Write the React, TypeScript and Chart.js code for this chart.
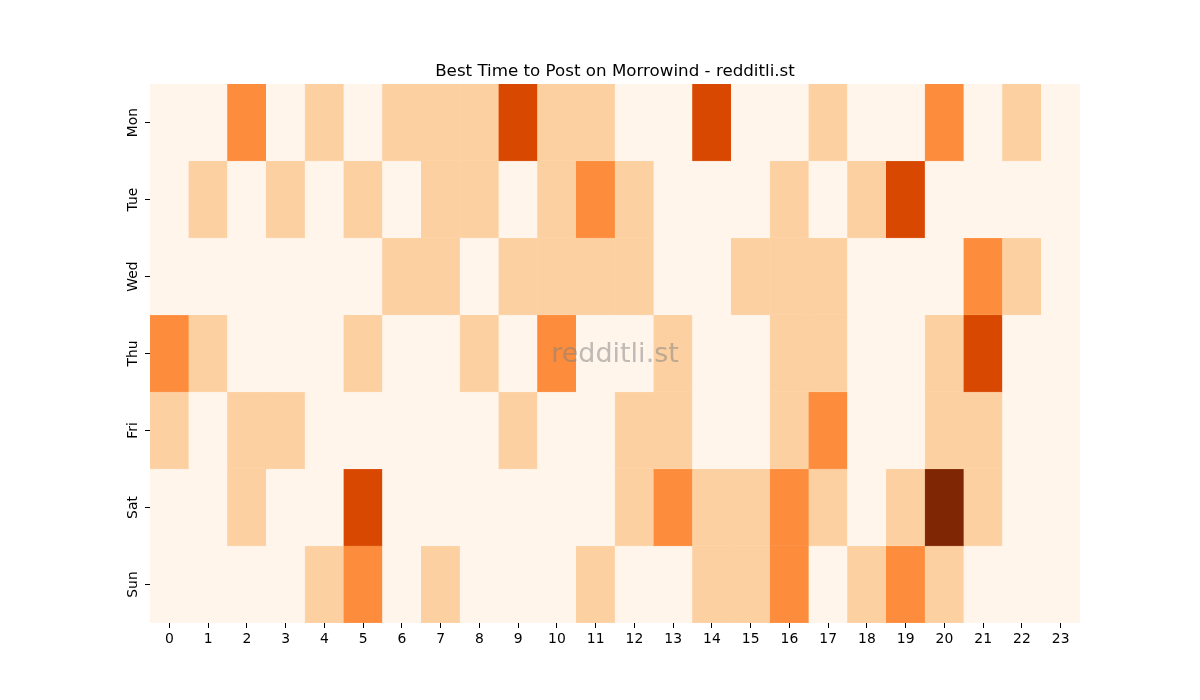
import { useEffect, useRef } from 'react';
import { Chart, registerables } from 'chart.js';

Chart.register(...registerables);

const days = ['Mon', 'Tue', 'Wed', 'Thu', 'Fri', 'Sat', 'Sun'];
const hours = Array.from({ length: 24 }, (_, i) => String(i));

// post counts per hour, one array per day
const mon = [0, 0, 2, 0, 1, 0, 1, 1, 1, 3, 1, 1, 0, 0, 3, 0, 0, 1, 0, 0, 2, 0, 1, 0];
const tue = [0, 1, 0, 1, 0, 1, 0, 1, 1, 0, 1, 2, 1, 0, 0, 0, 1, 0, 1, 3, 0, 0, 0, 0];
const wed = [0, 0, 0, 0, 0, 0, 1, 1, 0, 1, 1, 1, 1, 0, 0, 1, 1, 1, 0, 0, 0, 2, 1, 0];
const thu = [2, 1, 0, 0, 0, 1, 0, 0, 1, 0, 2, 0, 0, 1, 0, 0, 1, 1, 0, 0, 1, 3, 0, 0];
const fri = [1, 0, 1, 1, 0, 0, 0, 0, 0, 1, 0, 0, 1, 1, 0, 0, 1, 2, 0, 0, 1, 1, 0, 0];
const sat = [0, 0, 1, 0, 0, 3, 0, 0, 0, 0, 0, 0, 1, 2, 1, 1, 2, 1, 0, 1, 4, 1, 0, 0];
const sun = [0, 0, 0, 0, 1, 2, 0, 1, 0, 0, 0, 1, 0, 0, 1, 1, 2, 0, 1, 2, 1, 0, 0, 0];
const counts = [mon, tue, wed, thu, fri, sat, sun];

// Oranges colormap steps for 0..4
const oranges = ['#fff5eb', '#fdd0a2', '#fd8d3c', '#d94801', '#7f2704'];

const FONT = '"DejaVu Sans", sans-serif';

const HeatmapChart = () => {
  const canvasRef = useRef<HTMLCanvasElement>(null);
  const chartRef = useRef<Chart | null>(null);

  useEffect(() => {
    if (!canvasRef.current) return;
    if (chartRef.current) chartRef.current.destroy();

    // rotated day labels + watermark
    const extras = {
      id: 'extras',
      afterDraw(chart: any) {
        const ctx = chart.ctx;
        const y = chart.scales.y;
        ctx.save();
        ctx.fillStyle = '#000';
        ctx.font = `13.9px ${FONT}`;
        ctx.textAlign = 'center';
        ctx.textBaseline = 'middle';
        days.forEach((d, i) => {
          ctx.save();
          ctx.translate(133, y.getPixelForValue(i + 0.5));
          ctx.rotate(-Math.PI / 2);
          ctx.fillText(d, 0, 0);
          ctx.restore();
        });
        const area = chart.chartArea;
        ctx.font = `27px ${FONT}`;
        ctx.fillStyle = 'rgba(128, 128, 128, 0.5)';
        ctx.fillText('redditli.st', (area.left + area.right) / 2, (area.top + area.bottom) / 2 + 1);
        ctx.restore();
      },
    };

    chartRef.current = new Chart(canvasRef.current, {
      type: 'bar',
      data: {
        labels: hours,
        datasets: counts.map((row, i) => ({
          label: days[i],
          data: row.map(() => 1),
          backgroundColor: row.map((c) => oranges[c]),
          borderColor: row.map((c) => oranges[c]),
          borderWidth: 0.5,
          barPercentage: 1,
          categoryPercentage: 1,
        })),
      },
      options: {
        responsive: true,
        maintainAspectRatio: false,
        animation: false,
        layout: { padding: { left: 150, right: 120, top: 0, bottom: 0 } },
        plugins: {
          legend: { display: false },
          tooltip: { enabled: false },
          title: {
            display: true,
            text: 'Best Time to Post on Morrowind - redditli.st',
            color: '#000',
            font: { family: FONT, size: 16.7, weight: 'normal', lineHeight: 1.2 },
            padding: { top: 62, bottom: 2 },
          },
        },
        scales: {
          x: {
            stacked: true,
            border: { display: false },
            grid: {
              offset: false,
              drawOnChartArea: false,
              drawTicks: true,
              tickLength: 5,
              tickWidth: 1,
              tickColor: '#000',
            },
            ticks: {
              color: '#000',
              font: { family: FONT, size: 13.9 },
              padding: 3,
              maxRotation: 0,
              minRotation: 0,
              autoSkip: false,
            },
            afterFit: (scale: any) => {
              scale.height = 77;
            },
          },
          y: {
            stacked: true,
            reverse: true,
            min: 0,
            max: 7,
            border: { display: false },
            afterBuildTicks: (scale: any) => {
              scale.ticks = days.map((_, i) => ({ value: i + 0.5 }));
            },
            grid: {
              drawOnChartArea: false,
              drawTicks: true,
              tickLength: 5,
              tickWidth: 1,
              tickColor: '#000',
            },
            ticks: { display: false },
            afterFit: (scale: any) => {
              scale.width = 0;
            },
          },
        },
      },
      plugins: [extras],
    });

    return () => {
      if (chartRef.current) {
        chartRef.current.destroy();
        chartRef.current = null;
      }
    };
  }, []);

  return (
    <div style={{ position: 'absolute', left: 0, top: 0, width: 1200, height: 700, background: '#fff' }}>
      <canvas ref={canvasRef} />
    </div>
  );
};

export default function App() {
  return <HeatmapChart />;
}
